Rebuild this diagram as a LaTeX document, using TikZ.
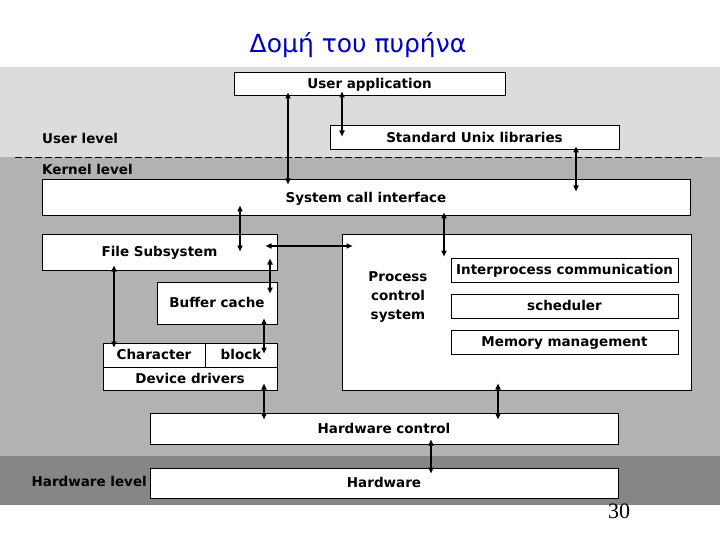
\documentclass[tikz,border=0pt]{standalone}
\usepackage{fontspec}
\setmainfont{DejaVu Sans}
\newfontfamily\numfont{Liberation Serif}
\usetikzlibrary{arrows.meta}
\definecolor{userband}{HTML}{DCDCDC}
\definecolor{kernband}{HTML}{B2B2B2}
\definecolor{hwband}{HTML}{868686}
\definecolor{titleblue}{HTML}{0000C0}
\tikzset{
  blk/.style={
    rectangle, draw=black, line width=1pt,
    fill=white, inner sep=0pt, text height=10pt, text depth=1pt,
    font=\fontsize{13.5}{19}\selectfont\bfseries
  },
  barr/.style = {arrows={Triangle[length=6pt,width=5pt]-Triangle[length=6pt,width=5pt]}, line width=1.5pt},
  lbl/.style  = {font=\fontsize{13.5}{19}\selectfont\bfseries, inner sep=0pt, align=center},
}

\begin{document}
\begin{tikzpicture}[x=1pt, y=-1pt]

%% ── canvas and level bands ──────────────────────────────────────────────────
\fill[white] (0,0) rectangle (720,540);
\useasboundingbox (0,0) rectangle (720,540);
\fill[userband] (0,67) rectangle (720,157);
\fill[kernband] (0,157) rectangle (720,456);
\fill[hwband]   (0,456) rectangle (720,505);
\draw[dash pattern=on 7pt off 3pt, line width=0.7pt] (15,157) -- (703,157);

%% ── title and page number ───────────────────────────────────────────────────
\node[font=\fontsize{25}{28}\selectfont, text=titleblue] (title) at (358,45) {Δομή του πυρήνα};
\node[font=\numfont\fontsize{22}{24}\selectfont] (page) at (619,511) {30};

%% ── level labels ────────────────────────────────────────────────────────────
\node[lbl, anchor=west] (ulev) at (42,138) {User level};
\node[lbl, anchor=west] (klev) at (42,169) {Kernel level};
\node[lbl, anchor=east] (hlev) at (147,481) {Hardware level};

%% ── user level ──────────────────────────────────────────────────────────────
\node[blk, minimum width=271pt, minimum height=23pt] (UA)  at (369.5, 84.5) {User application};
\node[blk, minimum width=289pt, minimum height=24pt] (LIB) at (474.5,138)   {Standard Unix libraries};

%% ── kernel level ────────────────────────────────────────────────────────────
\node[blk, minimum width=648pt, minimum height=36pt] (SCI) at (366,198)   {System call interface};
\node[blk, minimum width=235pt, minimum height=36pt] (FS)  at (159.5,252) {File Subsystem};
\node[blk, minimum width=349pt, minimum height=156pt] (PCS) at (516.5,312) {};
\node[lbl] (PCT) at (398,297) {Process\\control\\system};
\node[blk, minimum width=227pt, minimum height=24pt] (IPC) at (564.5,270) {Interprocess communication};
\node[blk, minimum width=227pt, minimum height=24pt] (SCH) at (564.5,306) {scheduler};
\node[blk, minimum width=227pt, minimum height=24pt] (MEM) at (564.5,342) {Memory management};
\node[blk, minimum width=120pt, minimum height=42pt] (BC)  at (217,303)   {Buffer cache};
\node[blk, minimum width=102pt, minimum height=24pt] (CHR) at (154,355)   {Character};
\node[blk, minimum width=72pt,  minimum height=24pt] (BLK) at (241,355)   {block};
\node[blk, minimum width=174pt, minimum height=23pt] (DEV) at (190,378.5) {Device drivers};
\node[blk, minimum width=468pt, minimum height=31pt] (HWC) at (384,428.5) {Hardware control};

%% ── hardware level ──────────────────────────────────────────────────────────
\node[blk, minimum width=468pt, minimum height=30pt] (HW)  at (384,483)   {Hardware};

%% ── user side connectors ────────────────────────────────────────────────────
\draw[barr] ([xshift=-81.5pt, yshift=4pt]UA.south) -- ([xshift=-78pt, yshift=-5pt]SCI.north);
\draw[barr] ([xshift=-27.5pt, yshift=5pt]UA.south) -- ([xshift=-132.5pt, yshift=-11pt]LIB.north);
\draw[barr] ([xshift=101.5pt, yshift=4pt]LIB.south) -- ([xshift=210pt, yshift=-12pt]SCI.north);

%% ── kernel connectors ───────────────────────────────────────────────────────
\draw[barr] ([xshift=-126pt, yshift=11pt]SCI.south) -- ([xshift=80.5pt, yshift=-18pt]FS.north);
\draw[barr] ([xshift=78pt, yshift=4pt]SCI.south) -- ([xshift=-72.5pt, yshift=-23pt]PCS.north);
\draw[barr] ([xshift=-12pt, yshift=6pt]FS.east) -- ([xshift=11pt, yshift=66pt]PCS.west);
\draw[barr] ([xshift=110.5pt, yshift=12pt]FS.south) -- ([xshift=53pt, yshift=-12pt]BC.north);
\draw[barr] ([xshift=-45.5pt, yshift=5pt]FS.south) -- ([xshift=-40pt, yshift=-5pt]CHR.north);
\draw[barr] ([xshift=47pt, yshift=6pt]BC.south) -- ([xshift=23pt, yshift=-11pt]BLK.north);

%% ── down to the hardware ────────────────────────────────────────────────────
\draw[barr] ([xshift=74pt, yshift=7pt]DEV.south) -- ([xshift=-120pt, yshift=-7pt]HWC.north);
\draw[barr] ([xshift=-18.5pt, yshift=7pt]PCS.south) -- ([xshift=114pt, yshift=-7pt]HWC.north);
\draw[barr] ([xshift=47pt, yshift=5pt]HWC.south) -- ([xshift=47pt, yshift=-6pt]HW.north);

\end{tikzpicture}
\end{document}
